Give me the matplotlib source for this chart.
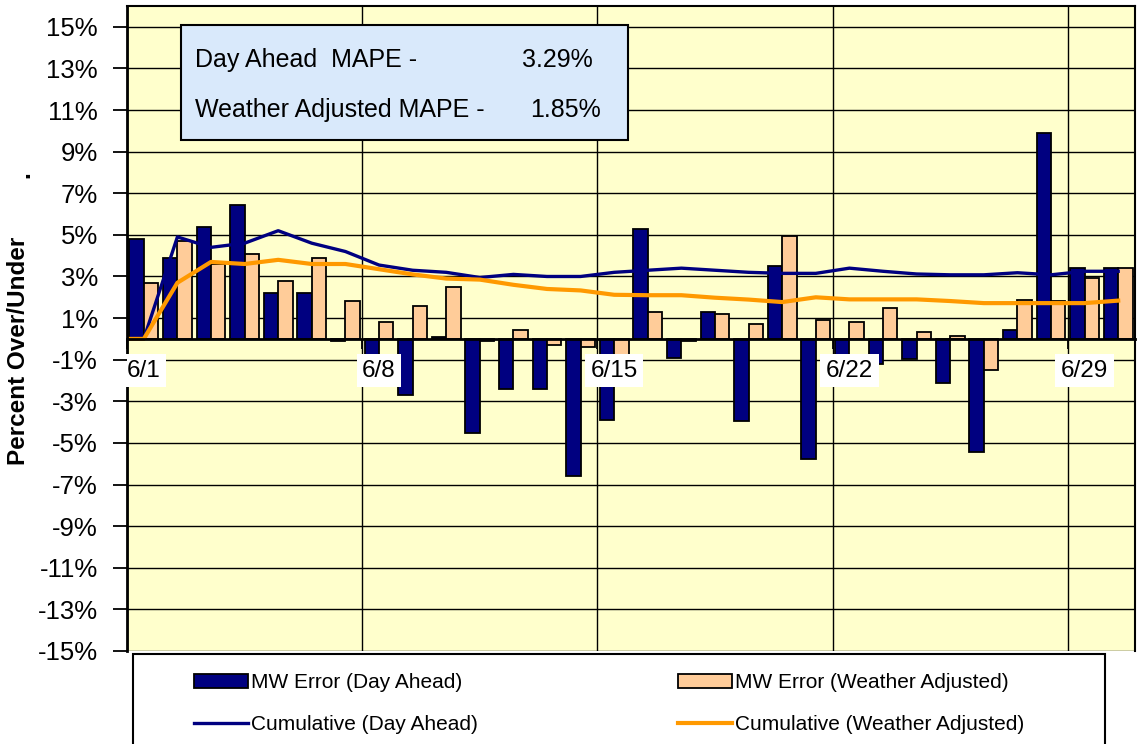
import numpy as np
import matplotlib
matplotlib.use("Agg")
import matplotlib.pyplot as plt
from matplotlib.patches import Rectangle, Patch
from matplotlib.lines import Line2D

plt.rcParams['font.family'] = ['Liberation Sans', 'DejaVu Sans']

# daily forecast error, percent over/under, June 1 - June 30
days = [f"6/{d}" for d in range(1, 31)]
err_day_ahead = [4.8, 3.9, 5.4, 6.45, 2.2, 2.2, -0.1, -1.0, -2.7, 0.1,
                 -4.5, -2.4, -2.4, -6.6, -3.9, 5.3, -0.9, 1.3, -3.95, 3.5,
                 -5.75, -1.0, -1.2, -0.95, -2.1, -5.45, 0.45, 9.9, 3.4, 3.4]
err_weather = [2.7, 4.7, 3.6, 4.1, 2.8, 3.9, 1.8, 0.8, 1.6, 2.5,
               -0.1, 0.45, -0.3, -0.4, -1.0, 1.3, -0.1, 1.2, 0.7, 4.95,
               0.9, 0.8, 1.5, 0.35, 0.15, -1.5, 1.85, 1.8, 2.95, 3.4]
cum_day_ahead = [0.0, 4.9, 4.4, 4.6, 5.2, 4.6, 4.2, 3.55, 3.3, 3.2,
                 2.95, 3.1, 3.0, 3.0, 3.2, 3.3, 3.4, 3.3, 3.2, 3.15,
                 3.15, 3.4, 3.25, 3.12, 3.08, 3.08, 3.18, 3.08, 3.25, 3.25]
cum_weather = [0.0, 2.7, 3.7, 3.6, 3.8, 3.6, 3.6, 3.35, 3.1, 2.9,
               2.85, 2.6, 2.4, 2.33, 2.12, 2.1, 2.1, 1.98, 1.89, 1.77,
               2.0, 1.9, 1.9, 1.9, 1.82, 1.72, 1.72, 1.72, 1.72, 1.84]
mape_day_ahead = "3.29%"
mape_weather = "1.85%"

NAVY = "#000080"
PEACH = "#FFCC99"
ORANGE = "#FF9900"

W, H = 1139, 744
fig = plt.figure(figsize=(W / 100, H / 100), dpi=100)
ax = fig.add_axes([127 / W, 1 - 651 / H, (1135 - 127) / W, (651 - 6) / H])
ax.set_facecolor("#FFFFCC")

n = len(days)
x = np.arange(n) + 0.5
bw = 0.43
ax.bar(x - bw / 2, err_day_ahead, bw, color=NAVY, edgecolor="black", linewidth=1.3, zorder=1)
ax.bar(x + bw / 2, err_weather, bw, color=PEACH, edgecolor="black", linewidth=1.3, zorder=1)

# lines start flat at the left edge of the plot
lx = np.r_[0, x]
ax.plot(lx, np.r_[cum_day_ahead[0], cum_day_ahead], color=NAVY, lw=2.4, zorder=2)
ax.plot(lx, np.r_[cum_weather[0], cum_weather], color=ORANGE, lw=3.0, zorder=2)

ax.set_xlim(0, n)
ax.set_ylim(-15, 16)

yt = np.arange(-15, 16, 2)
for v in yt:
    ax.axhline(v, color="black", lw=1.0, zorder=0.5)
weeks = np.arange(0, n, 7)
for v in weeks:
    ax.axvline(v, color="black", lw=1.0, zorder=0.5)

ax.set_yticks(yt)
ax.set_yticklabels([f"{v}%" for v in yt])
ax.tick_params(axis="y", length=10, width=1.3, pad=11, labelsize=18.5, direction="out")

# category axis crosses at zero, labels sit just below it
ax.spines["bottom"].set_position(("data", 0))
ax.spines["bottom"].set_linewidth(2)
ax.spines["left"].set_linewidth(2)
ax.spines["top"].set_linewidth(1.5)
ax.spines["right"].set_linewidth(1.5)
ax.set_xticks(x[weeks])
ax.set_xticklabels([days[i] for i in weeks])
ax.set_xticks(weeks, minor=True)
ax.tick_params(axis="x", which="major", length=0, pad=15, labelsize=17.5)
ax.tick_params(axis="x", which="minor", length=7, width=1.3, direction="out")
for lbl in ax.get_xticklabels():
    lbl.set_bbox(dict(facecolor="white", edgecolor="none", pad=4))
ax.set_axisbelow(False)

# MAPE summary box
fig.add_artist(Rectangle((181 / W, 1 - 140 / H), (628 - 181) / W, (140 - 25) / H,
                         transform=fig.transFigure, facecolor="#D9E9FB",
                         edgecolor="black", lw=1.5, zorder=5))
fig.text(195 / W, 1 - 60 / H, "Day Ahead  MAPE -", fontsize=18, va="center", zorder=6)
fig.text(522 / W, 1 - 60 / H, mape_day_ahead, fontsize=18, va="center", zorder=6)
fig.text(195 / W, 1 - 110 / H, "Weather Adjusted MAPE -", fontsize=18, va="center", zorder=6)
fig.text(530 / W, 1 - 110 / H, mape_weather, fontsize=18, va="center", zorder=6)

fig.text(19 / W, 1 - 351 / H, "Percent Over/Under", rotation=90, fontsize=17.5,
         fontweight="bold", ha="center", va="center")
fig.text(23 / W, 1 - 175 / H, ".", rotation=90, fontsize=17.5,
         fontweight="bold", ha="center", va="center")

# legend box runs off the bottom of the figure
fig.add_artist(Rectangle((133 / W, -0.05), (1105 - 133) / W, 0.05 + 1 - 654 / H,
                         transform=fig.transFigure, facecolor="white",
                         edgecolor="black", lw=1.5, zorder=3))
handles = [
    Patch(facecolor=NAVY, edgecolor="black", lw=1.3),
    Line2D([], [], color=NAVY, lw=2.4),
    Patch(facecolor=PEACH, edgecolor="black", lw=1.3),
    Line2D([], [], color=ORANGE, lw=3.0),
]
labels = ["MW Error (Day Ahead)", "Cumulative (Day Ahead)",
          "MW Error (Weather Adjusted)", "Cumulative (Weather Adjusted)"]
leg = fig.legend(handles, labels, ncol=2, loc="upper left",
                 bbox_to_anchor=(194 / W, 1 - 673 / H), frameon=False,
                 fontsize=15, handlelength=2.6, handletextpad=0.15, handleheight=0.65,
                 columnspacing=9.6, labelspacing=1.1, borderpad=0, borderaxespad=0)
leg.set_zorder(6)

fig.savefig("out.png", dpi=100)
